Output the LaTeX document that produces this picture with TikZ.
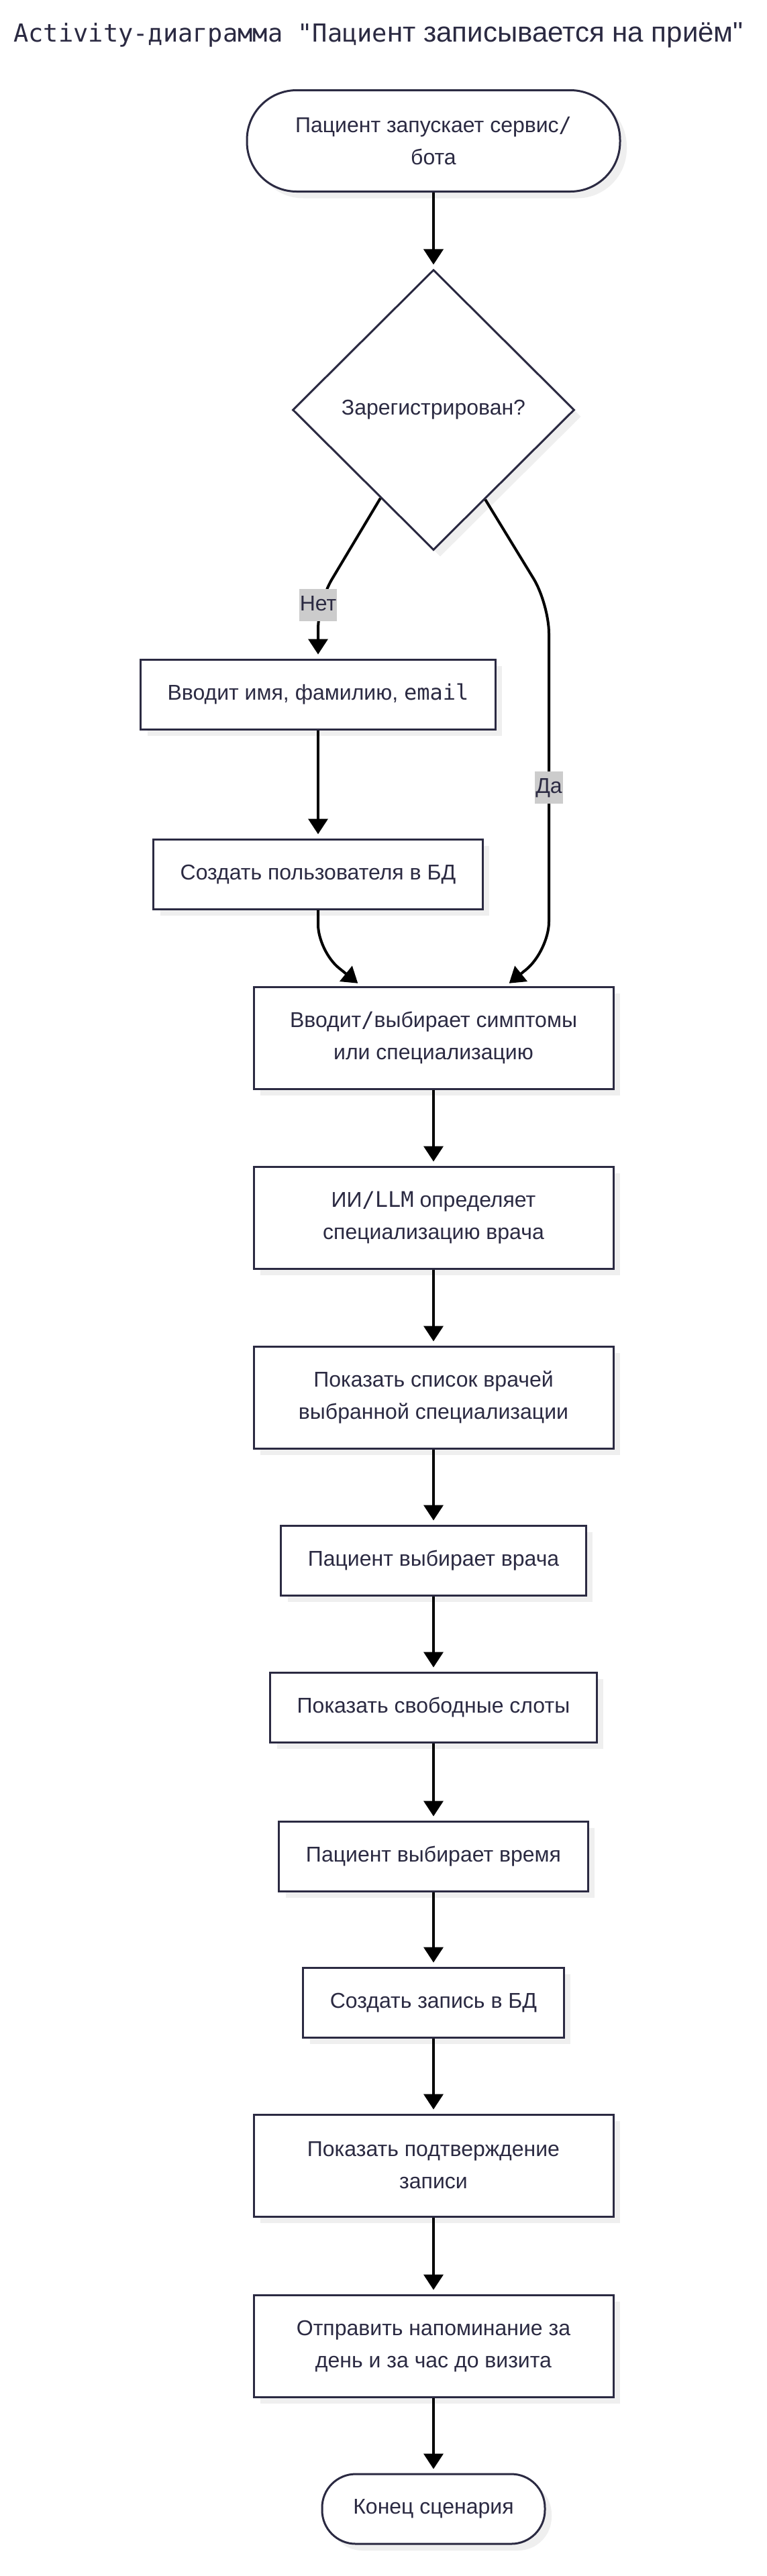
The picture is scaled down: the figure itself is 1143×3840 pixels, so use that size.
\documentclass[tikz,border=0pt]{standalone}
\usepackage{fontspec}
\setmainfont{Liberation Sans}
\newfontfamily\monofont{DejaVu Sans Mono}
\newfontfamily\plainsans{Liberation Sans}
\usetikzlibrary{arrows.meta,positioning,shapes.geometric,shadows,calc}
\definecolor{ink}{HTML}{2B2A42}
\definecolor{shadowgray}{HTML}{EFEFEF}
\definecolor{lblgray}{HTML}{CCCCCC}
\tikzset{
	every node/.style={font=\fontsize{16}{24}\selectfont,text=ink},
	box/.style={draw=ink,line width=1.5pt,fill=white,rectangle,align=center,inner xsep=20pt,inner ysep=4pt,minimum height=52pt,
		drop shadow={shadow xshift=5pt,shadow yshift=-5pt,fill=shadowgray,opacity=1}},
	wide/.style={box,minimum width=268pt,minimum height=76pt},
	terminal/.style={box,rounded corners=#1},
	decision/.style={draw=ink,line width=1.5pt,fill=white,diamond,aspect=1,minimum width=210pt,minimum height=209pt,inner sep=0pt,
		drop shadow={shadow xshift=5pt,shadow yshift=-5pt,fill=shadowgray,opacity=1}},
	lbl/.style={fill=lblgray,inner xsep=0.5pt,inner ysep=4.5pt,text height=11.5pt,text depth=3.5pt},
	arr/.style={draw=black,line width=2pt,-{Triangle[length=11.5pt,width=14.5pt]},shorten >=3pt}
}
\begin{document}
\begin{tikzpicture}[x=0.5pt,y=-0.5pt]
	\fill[white] (0,0) rectangle (1143,3840);
	\useasboundingbox (0,0) rectangle (1143,3840);
	\node[anchor=base west,inner sep=0pt] (title) at (20,62) {{\monofont\fontsize{18.5}{22}\selectfont Activity-диаграмма "Пацие}{\plainsans\fontsize{21}{24}\selectfont нт записывается на приём"}};
	\node[terminal=37pt,minimum width=278pt,minimum height=75.5pt] (start) at (646,210) {Пациент запускает сервис{\monofont /}\\бота};
	\node[decision] (reg) at (646,611) {Зарегистрирован?};
	\node[box] (name) at (474,1035) {Вводит имя, фамилию, {\monofont email}};
	\node[box] (user) at (474,1303) {Создать пользователя в БД};
	\node[wide] (symp) at (646,1547) {Вводит{\monofont /}выбирает симптомы\\или специализацию};
	\node[wide] (spec) at (646,1815) {ИИ{\monofont /LLM} определяет\\специализацию врача};
	\node[wide] (list) at (646,2083) {Показать список врачей\\выбранной специализации};
	\node[box] (doc) at (646,2326) {Пациент выбирает врача};
	\node[box] (slots) at (646,2545) {Показать свободные слоты};
	\node[box] (time) at (646,2767) {Пациент выбирает время};
	\node[box] (rec) at (646,2985) {Создать запись в БД};
	\node[wide] (conf) at (646,3228) {Показать подтверждение\\записи};
	\node[wide] (remind) at (646,3497) {Отправить напоминание за\\день и за час до визита};
	\node[terminal=25pt,minimum width=166pt] (fin) at (646,3740) {Конец сценария};
	\coordinate (nobend) at (474,898);
	\coordinate (yesbend) at (818,900);
	\coordinate (yesturn) at (818,1418);
	\coordinate (userturn) at (474,1418);
	\draw[arr] (start) -- (reg);
	\draw[arr,rounded corners=20pt] (reg.239) -- (nobend) -- (name);
	\draw[arr] (name) -- (user);
	\draw[arr,rounded corners=20pt] (user) -- (userturn) -- ($(symp.north)+(-108,0)$);
	\draw[arr,rounded corners=22pt] (reg.300) -- (yesbend) -- (yesturn) -- ($(symp.north)+(108,0)$);
	\node[lbl] (no) at (474,902) {Нет};
	\node[lbl] (yes) at (818,1174) {Да};
	\foreach \a/\b in {symp/spec,spec/list,list/doc,doc/slots,slots/time,time/rec,rec/conf,conf/remind,remind/fin}
		\draw[arr] (\a) -- (\b);
\end{tikzpicture}
\end{document}
